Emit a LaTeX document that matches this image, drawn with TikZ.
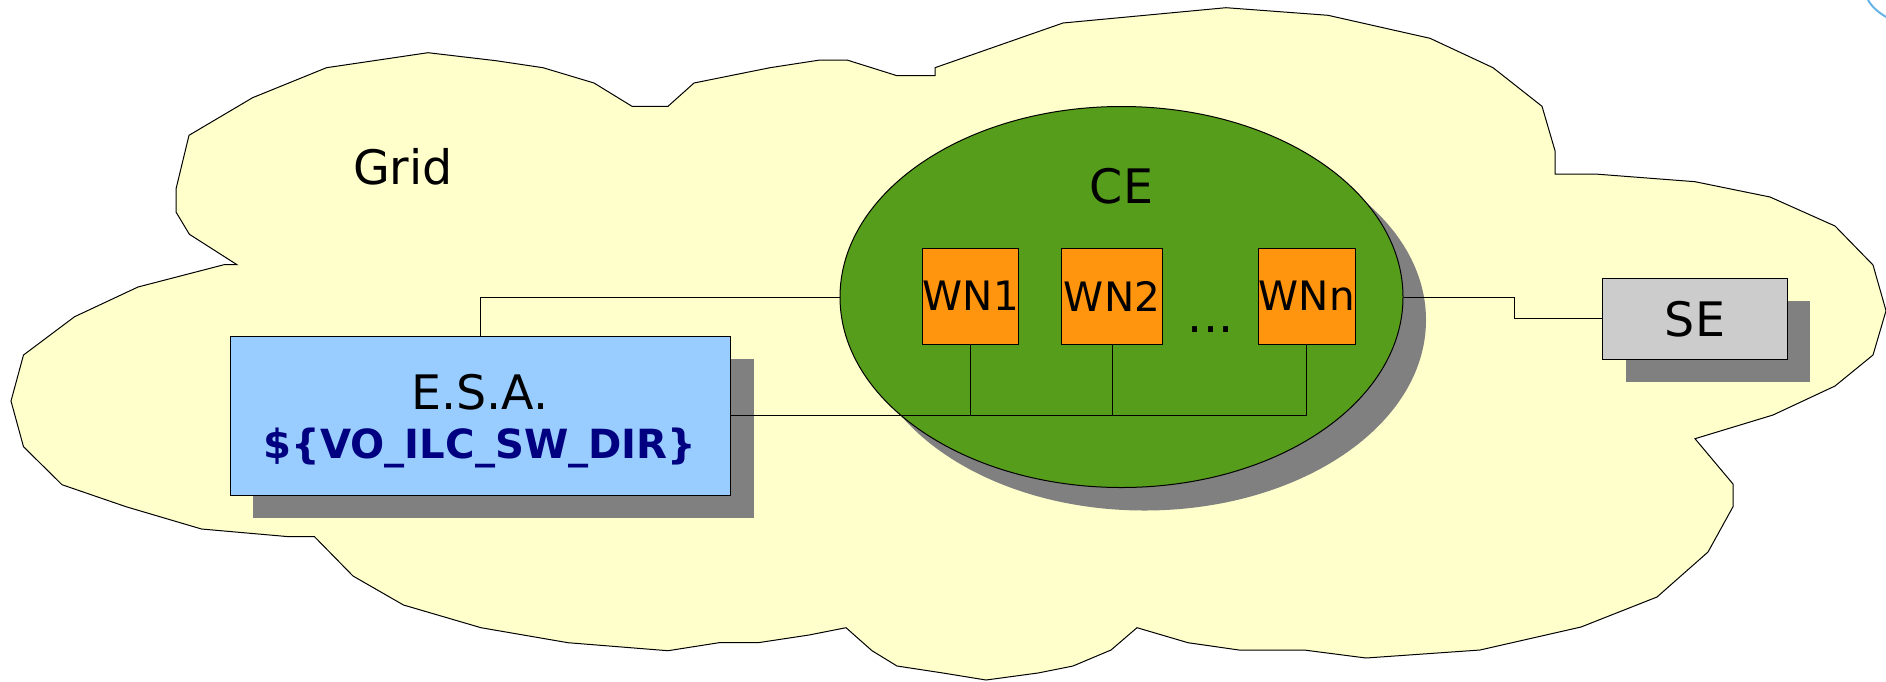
\documentclass[tikz,border=0pt]{standalone}
\usepackage{fontspec}
\setmainfont{DejaVu Sans}
\usetikzlibrary{shadows,shapes.geometric}
\definecolor{cloudc}{HTML}{FFFFCC}
\definecolor{cegreen}{HTML}{579D1C}
\definecolor{wnorange}{HTML}{FF950E}
\definecolor{esablue}{HTML}{99CCFF}
\definecolor{segray}{HTML}{CCCCCC}
\definecolor{shadowc}{HTML}{808080}
\definecolor{dirnavy}{HTML}{000080}
\definecolor{arcblue}{HTML}{66B3E6}
\tikzset{
  x=1pt,y=-1pt,
  outline/.style={draw=black,line width=1pt},
  hasshadow/.style={copy shadow={shadow xshift=23pt,shadow yshift=-23pt,draw=none,fill=shadowc}},
  wnbox/.style={outline,fill=wnorange,minimum width=96.5pt,minimum height=96pt,inner sep=0pt,font=\fontsize{40.5}{40.5}\selectfont},
  link/.style={draw=black,line width=1pt},
  biglabel/.style={anchor=base,inner sep=0pt,font=\fontsize{47.5}{47.5}\selectfont},
}
\begin{document}
\begin{tikzpicture}
\useasboundingbox (0,0) rectangle (1886,681);
\draw[outline,fill=cloudc] (428,52.7)--(496,60.7)--(543,67.7)--(594,83)--(632,106.3)--(668,106.3)--(694,83)--(770,67.7)--(820,60)--(847,60)--(897,75.7)--(935,75.7)--(935,67.7)--(1000,45)--(1063,23)--(1226,7.7)--(1328,15.3)--(1430,38.3)--(1493,67.7)--(1542,106.3)--(1555,150.7)--(1555,174)--(1595,174)--(1695,181.7)--(1770,197)--(1835,226)--(1873,265)--(1886,310.7)--(1873,355)--(1835,386)--(1773,415)--(1695,438.7)--(1733,484)--(1733,506.7)--(1708,552)--(1657,597)--(1581,627)--(1480,650)--(1366,658)--(1304,650)--(1239,650)--(1188,642.7)--(1137,627.7)--(1111,650)--(1073,666)--(1038,673)--(986,680)--(943,673)--(897,666)--(872,650.7)--(846,627.7)--(809,635)--(758,642.7)--(719,642.7)--(668,650.7)--(568,642.7)--(481,627.7)--(403.5,605)--(353,576)--(314.5,536.7)--(289,536.7)--(201.5,529)--(126,506.7)--(62,484.7)--(23.5,446.7)--(11,401)--(23.5,355)--(74.6,316.7)--(138,287)--(224,264.7)--(237,264.7)--(189.4,234.3)--(176,212)--(176,189)--(189,135.3)--(252.6,97.7)--(326.5,67.7)--cycle;
\draw[arcblue,line width=2pt] (1868,0) .. controls (1872,7) and (1878,12) .. (1886,17);
\node[biglabel] (grid) at (403,184.3) {Grid};
\node[ellipse,outline,fill=cegreen,minimum width=563pt,minimum height=381pt,inner sep=0pt,hasshadow] (ce) at (1121.5,297) {};
\node[biglabel] (celabel) at (1121.5,203.3) {CE};
\node[rectangle,outline,fill=esablue,minimum width=500.7pt,minimum height=159pt,inner sep=0pt,hasshadow] (esa) at (480.4,415.8) {};
\node[biglabel] (esaname) at (480,409.5) {E.S.A.};
\node[anchor=base,inner sep=0pt,text=dirnavy,font=\bfseries\fontsize{40.2}{40.2}\selectfont] (esadir) at (480,458) {\$\{VO\_ILC\_SW\_DIR\}};
\node[rectangle,outline,fill=segray,minimum width=184.7pt,minimum height=81pt,inner sep=0pt,font=\fontsize{47.5}{47.5}\selectfont,hasshadow] (se) at (1695,318.8) {SE};
\node[wnbox] (wn1) at (970.7,296) {WN1};
\node[wnbox,minimum width=101pt] (wn2) at (1112,296) {WN2};
\node[wnbox] (wnn) at (1306.8,296) {WNn};
\node[anchor=base,inner sep=0pt,font=\fontsize{47.5}{47.5}\selectfont] (dots) at (1210.6,332) {...};
\draw[link] (esa.north) |- (ce.west);
\draw[link] (ce.east) -- ++(110.7,0) |- (se.west);
\draw[link] (wn1.south) |- (esa.east);
\draw[link] (wn2.south) |- (esa.east);
\draw[link] (wnn.south) |- (esa.east);
\end{tikzpicture}
\end{document}
